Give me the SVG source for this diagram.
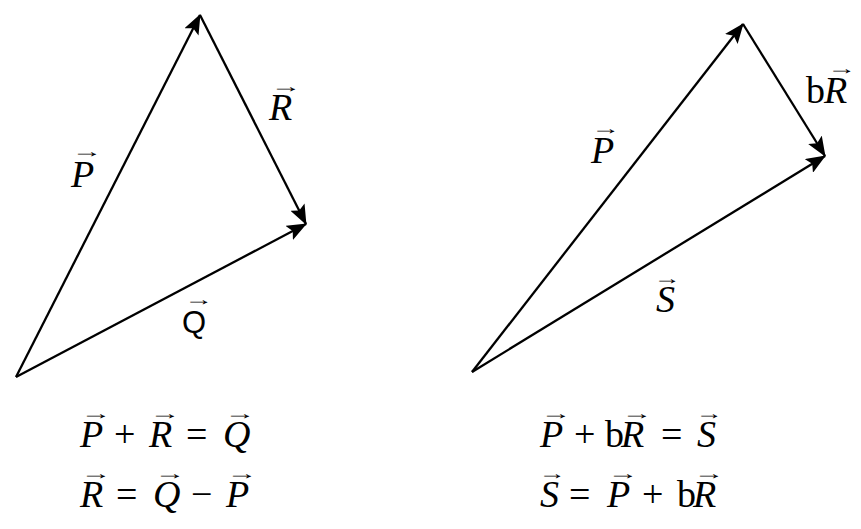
<svg xmlns="http://www.w3.org/2000/svg" width="861" height="529" viewBox="0 0 861 529">
<defs>
<marker id="ah" viewBox="0 0 20 16" refX="19" refY="8" markerWidth="20" markerHeight="16" markerUnits="userSpaceOnUse" orient="auto">
<path d="M0,0 L20,8 L0,16 L4,8 Z" fill="#000"/>
</marker>
<style>
.ln{stroke:#000;stroke-width:2.3;fill:none;marker-end:url(#ah)}
.it{font-family:"Liberation Serif",serif;font-style:italic;font-size:38px;fill:#000}
.rm{font-family:"Liberation Serif",serif;font-style:normal;font-size:38px;fill:#000}
.sa{font-family:"Liberation Sans",sans-serif;font-style:normal;font-size:31px;fill:#000}
.ar{font-family:"Liberation Sans",sans-serif;font-style:normal;font-size:18px;fill:#000}
</style>
</defs>
<rect width="861" height="529" fill="#fff"/>
<g id="connectors">
<line class="ln" x1="16" y1="377" x2="200" y2="15"/>
<line class="ln" x1="200" y1="15" x2="306" y2="224"/>
<line class="ln" x1="16" y1="377" x2="306" y2="224"/>
<line class="ln" x1="472" y1="372" x2="743" y2="24"/>
<line class="ln" x1="743" y1="24" x2="825" y2="156"/>
<line class="ln" x1="472" y1="372" x2="825" y2="156"/>
</g>
<g id="label-P-left"><text class="it" x="71" y="187">P</text><text class="ar" transform="translate(72,157) scale(1.7,1)">→</text></g>
<g id="label-R-left"><text class="it" x="269" y="120">R</text><text class="ar" transform="translate(271,92) scale(1.7,1)">→</text></g>
<g id="label-Q-left"><text class="sa" x="182" y="333">Q</text><text class="ar" transform="translate(184,305) scale(1.6,1)">→</text></g>
<g id="label-P-right"><text class="it" x="591" y="163">P</text><text class="ar" transform="translate(591,134) scale(1.6,1)">→</text></g>
<g id="label-bR-right"><text class="rm" x="806" y="103">b</text><text class="it" x="824" y="103">R</text><text class="ar" transform="translate(827,74) scale(1.6,1)">→</text></g>
<g id="label-S-right"><text class="it" x="656" y="312">S</text><text class="ar" transform="translate(654,284) scale(1.5,1)">→</text></g>
<g id="eq-left-1">
<text class="it" x="80" y="447">P</text><text class="ar" transform="translate(81,419) scale(1.7,1)">→</text>
<text class="rm" x="114" y="447">+</text>
<text class="it" x="149" y="447">R</text><text class="ar" transform="translate(150,419) scale(1.7,1)">→</text>
<text class="rm" x="186" y="447">=</text>
<text class="it" x="223" y="447">Q</text><text class="ar" transform="translate(225,419) scale(1.7,1)">→</text>
</g>
<g id="eq-left-2">
<text class="it" x="80" y="507">R</text><text class="ar" transform="translate(81,479) scale(1.7,1)">→</text>
<text class="rm" x="116" y="507">=</text>
<text class="it" x="153" y="507">Q</text><text class="ar" transform="translate(155,479) scale(1.7,1)">→</text>
<text class="rm" x="191" y="507">−</text>
<text class="it" x="226" y="507">P</text><text class="ar" transform="translate(227,479) scale(1.7,1)">→</text>
</g>
<g id="eq-right-1">
<text class="it" x="540" y="447">P</text><text class="ar" transform="translate(541,419) scale(1.7,1)">→</text>
<text class="rm" x="574" y="447">+</text>
<text class="rm" x="605" y="447">b</text>
<text class="it" x="621" y="447">R</text><text class="ar" transform="translate(622,419) scale(1.7,1)">→</text>
<text class="rm" x="661" y="447">=</text>
<text class="it" x="697" y="447">S</text><text class="ar" transform="translate(696,419) scale(1.5,1)">→</text>
</g>
<g id="eq-right-2">
<text class="it" x="540" y="507">S</text><text class="ar" transform="translate(539,479) scale(1.5,1)">→</text>
<text class="rm" x="569" y="507">=</text>
<text class="it" x="607" y="507">P</text><text class="ar" transform="translate(608,479) scale(1.7,1)">→</text>
<text class="rm" x="642" y="507">+</text>
<text class="rm" x="677" y="507">b</text>
<text class="it" x="693" y="507">R</text><text class="ar" transform="translate(694,479) scale(1.7,1)">→</text>
</g>
</svg>
